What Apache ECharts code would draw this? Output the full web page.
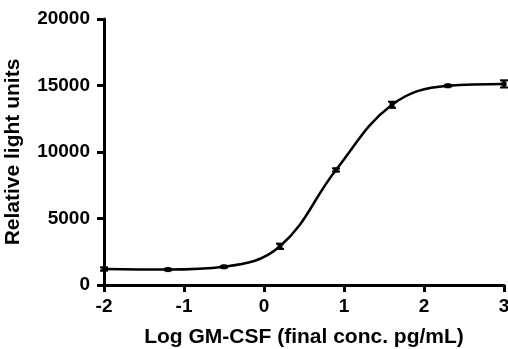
<!DOCTYPE html>
<html>
<head>
<meta charset="utf-8">
<script src="https://cdn.jsdelivr.net/npm/echarts@6/dist/echarts.min.js"></script>
<style>
  html, body { margin: 0; padding: 0; background: #fff; }
  #container { width: 508px; height: 349px; }
</style>
</head>
<body>
<div id="container"></div>
<script>
const logConc = [-2, -1.2, -0.5, 0.2, 0.9, 1.6, 2.3, 3];
const rlu = [1200, 1160, 1370, 2910, 8650, 13550, 14980, 15120];
const sem = [120, 60, 60, 200, 120, 230, 60, 270];
const yTicks = [0, 5000, 10000, 15000, 20000];

const font = '"Liberation Sans", Arial, sans-serif';

const myChart = echarts.init(document.getElementById('container'), null, { renderer: 'canvas' });

const points = logConc.map((x, i) => [x, rlu[i]]);
const bars = logConc.map((x, i) => [x, rlu[i] - sem[i], rlu[i] + sem[i]]);

const option = {
    backgroundColor: '#fff',
    animation: false,
    grid: { left: 104, right: 4, top: 19, bottom: 64, containLabel: false, outerBoundsMode: 'none' },
    xAxis: {
        type: 'value',
        min: -2,
        max: 3,
        interval: 1,
        name: 'Log GM-CSF (final conc. pg/mL)',
        nameLocation: 'middle',
        nameGap: 42,
        nameTextStyle: { fontFamily: font, fontWeight: 'bold', fontSize: 21, color: '#000' },
        axisLine: { onZero: false, lineStyle: { color: '#000', width: 3 } },
        axisTick: { length: 7, lineStyle: { color: '#000', width: 3 } },
        axisLabel: { fontFamily: font, fontWeight: 'bold', fontSize: 19, color: '#000', margin: 12 },
        splitLine: { show: false }
    },
    yAxis: {
        type: 'value',
        min: 0,
        max: 20000,
        interval: 5000,
        name: 'Relative light units',
        nameLocation: 'middle',
        nameGap: 80,
        nameRotate: 90,
        nameTextStyle: { fontFamily: font, fontWeight: 'bold', fontSize: 21, color: '#000' },
        axisLine: { show: true, onZero: false, lineStyle: { color: '#000', width: 3 } },
        axisTick: { show: true, length: 7, lineStyle: { color: '#000', width: 3 } },
        axisLabel: {
            fontFamily: font, fontWeight: 'bold', fontSize: 19, color: '#000', margin: 14,
            formatter: (v) => yTicks.includes(v) ? String(v) : ''
        },
        splitLine: { show: false }
    },
    series: [
        {
            type: 'line',
            data: points,
            smooth: 0.4,
            symbol: 'rect',
            symbolSize: 5,
            itemStyle: { color: '#000' },
            lineStyle: { color: '#000', width: 2.5 },
            clip: false,
            z: 3
        },
        {
            type: 'custom',
            data: bars,
            clip: false,
            z: 4,
            renderItem: (params, api) => {
                const x = api.value(0);
                const lo = api.coord([x, api.value(1)]);
                const hi = api.coord([x, api.value(2)]);
                const cap = 4;
                const style = { stroke: '#000', lineWidth: 2 };
                return {
                    type: 'group',
                    children: [
                        { type: 'line', shape: { x1: lo[0], y1: lo[1], x2: hi[0], y2: hi[1] }, style },
                        { type: 'line', shape: { x1: lo[0] - cap, y1: lo[1], x2: lo[0] + cap, y2: lo[1] }, style },
                        { type: 'line', shape: { x1: hi[0] - cap, y1: hi[1], x2: hi[0] + cap, y2: hi[1] }, style }
                    ]
                };
            }
        }
    ]
};

myChart.setOption(option);
</script>
</body>
</html>
